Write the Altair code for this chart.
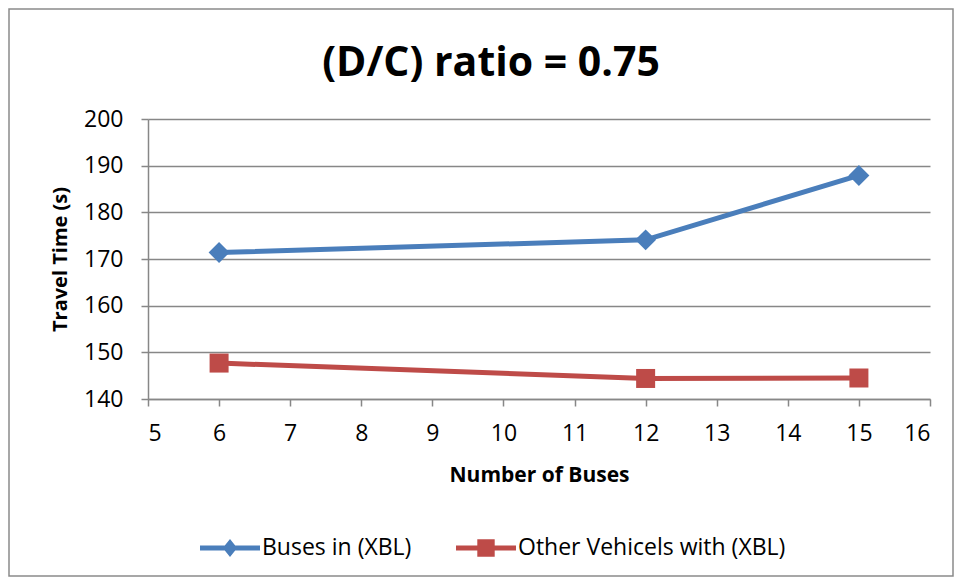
import altair as alt
import pandas as pd

# ---- data ----
buses = [6, 12, 15]
buses_in_xbl = [171.4, 174.1, 187.9]
other_vehicles_xbl = [147.7, 144.4, 144.5]
series_names = ["Buses in (XBL)", "Other Vehicels with (XBL)"]
series_colors = ["#4A7EBB", "#BE4B48"]
x_ticks = list(range(5, 17))
y_ticks = list(range(140, 201, 10))

rows = []
for x, v in zip(buses, buses_in_xbl):
    rows.append({"buses": x, "time": v, "series": series_names[0]})
for x, v in zip(buses, other_vehicles_xbl):
    rows.append({"buses": x, "time": v, "series": series_names[1]})
df = pd.DataFrame(rows)

FONT = "Open Sans"
GRID = "#878787"

# legend symbols: line with marker (unit coordinates)
legend_paths = [
    "M-1,-0.08H1V0.08H-1Z M0,-0.3L0.24,0L0,0.3L-0.24,0Z",
    "M-1,-0.08H1V0.08H-1Z M-0.29,-0.29H0.29V0.29H-0.29Z",
]

color_scale = alt.Scale(domain=series_names, range=series_colors)

xenc = alt.X(
    "buses:Q",
    scale=alt.Scale(domain=[5, 16], nice=False, zero=False),
    axis=alt.Axis(values=x_ticks, title="Number of Buses", grid=False, tickSize=7,
                  labelPadding=16, titlePadding=19),
)
yenc = alt.Y(
    "time:Q",
    scale=alt.Scale(domain=[140, 200], nice=False, zero=False),
    axis=alt.Axis(values=y_ticks, title="Travel Time (s)", grid=True, tickSize=7,
                  labelPadding=18, titlePadding=13),
)

base = alt.Chart(df)

layers = []
for name, col in zip(series_names, series_colors):
    sub = base.transform_filter(alt.datum.series == name)
    layers.append(sub.mark_line(strokeWidth=5, color=col).encode(x=xenc, y=yenc))
for name, col, shp, sz in zip(series_names, series_colors, ["diamond", "square"], [440, 361]):
    sub = base.transform_filter(alt.datum.series == name)
    layers.append(sub.mark_point(shape=shp, filled=True, size=sz, opacity=1, color=col)
                  .encode(x=xenc, y=yenc))

legend_layer = base.transform_filter("false").mark_point(filled=True, opacity=1).encode(
    x=xenc, y=yenc,
    color=alt.Color("series:N", scale=color_scale,
                    legend=alt.Legend(title=None, orient="none", direction="horizontal",
                                      legendX=52, legendY=399)),
    shape=alt.Shape("series:N", scale=alt.Scale(domain=series_names, range=legend_paths),
                    legend=alt.Legend(title=None, orient="none", direction="horizontal",
                                      legendX=52, legendY=399)),
)

frame = alt.Chart(pd.DataFrame({"a": [0]})).mark_rect(
    filled=False, stroke="#8A8A8A", strokeWidth=1.5
).encode(x=alt.value(-139), x2=alt.value(805), y=alt.value(-110), y2=alt.value(457))

chart = alt.layer(frame, *layers, legend_layer).properties(
    width=782,
    height=280,
    autosize=alt.AutoSizeParams(type="none"),
    padding={"left": 140, "top": 111, "right": 25, "bottom": 178},
    title=alt.TitleParams(
        "(D/C) ratio = 0.75", font=FONT, fontSize=41, fontWeight="bold",
        color="#000000", anchor="middle", dx=-48, offset=-109, baseline="alphabetic",
    ),
).configure_view(stroke=None).configure_axis(
    labelFont=FONT, labelFontSize=23, labelColor="#000000",
    titleFont=FONT, titleFontSize=20, titleFontWeight="bold", titleColor="#000000",
    domainColor=GRID, domainWidth=1.5, tickColor=GRID, tickWidth=1.5,
    gridColor=GRID, gridWidth=1.5, gridOpacity=1,
).configure_axisX(titleFontSize=21).configure_axisY(titleFontSize=20).configure_legend(
    labelFont=FONT, labelFontSize=23, labelColor="#000000", symbolSize=3600,
    symbolStrokeWidth=0, labelOffset=2, columnPadding=44, padding=0, labelLimit=500,
)

chart.save("out.html", embed_options={"renderer": "svg", "actions": False})
